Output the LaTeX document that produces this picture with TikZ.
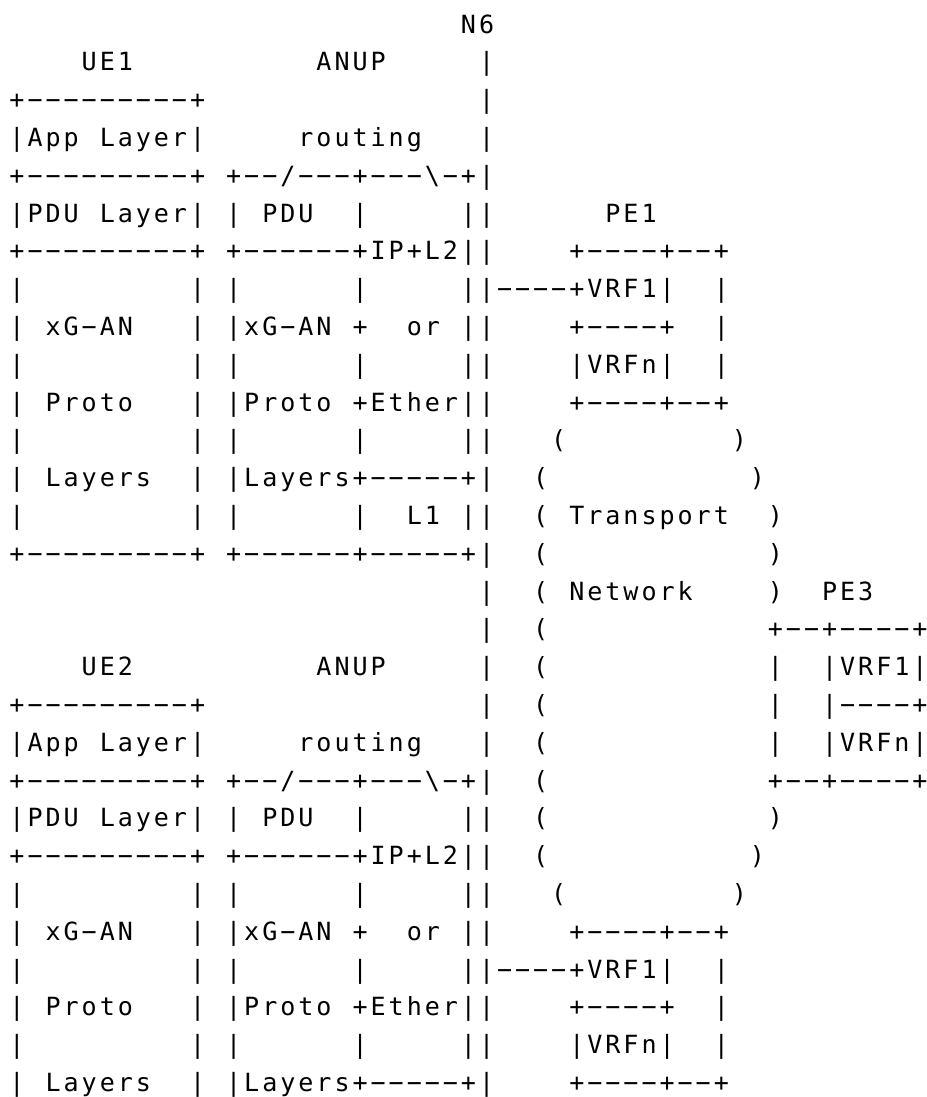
\documentclass[tikz,border=0pt]{standalone}
\usepackage{fontspec}
\newfontfamily\asciifont{DejaVu Sans Mono}

% one character cell of the text grid
\newlength\cellw
\setlength\cellw{13.545pt}
\makeatletter
\def\ascii@dash{-}
% a row of fixed-width cells; spaces and backslashes are read as plain characters
\newcommand\asciirow{\begingroup\catcode`\ =12 \catcode`\\=12 \ascii@row}
\newcommand\ascii@row[1]{\@tfor\ascii@ch:=#1\do{%
  \makebox[\cellw][c]{\ifx\ascii@ch\ascii@dash\char"2212\else\ascii@ch\fi}}\endgroup}
\makeatother

\begin{document}
\begin{tikzpicture}[
  x=0.75pt, y=-0.75pt,
  asciiline/.style={anchor=base west, inner sep=0pt, outer sep=0pt,
                    font=\asciifont\fontsize{18.8pt}{28pt}\selectfont}
]
\useasboundingbox (0,0) rectangle (926,1097);
% ── UE1 / ANUP / PE1 ──────────────────
\node[asciiline] (r00) at (8,33)     {\asciirow{                         N6}};
\node[asciiline] (r01) at (8,70.8)   {\asciirow{    UE1          ANUP     |}};
\node[asciiline] (r02) at (8,108.6)  {\asciirow{+---------+               |}};
\node[asciiline] (r03) at (8,146.4)  {\asciirow{|App Layer|     routing   |}};
\node[asciiline] (r04) at (8,184.2)  {\asciirow{+---------+ +--/---+---\-+|}};
\node[asciiline] (r05) at (8,222)    {\asciirow{|PDU Layer| | PDU  |     ||      PE1}};
\node[asciiline] (r06) at (8,259.8)  {\asciirow{+---------+ +------+IP+L2||    +----+--+}};
\node[asciiline] (r07) at (8,297.6)  {\asciirow{|         | |      |     ||----+VRF1|  |}};
\node[asciiline] (r08) at (8,335.4)  {\asciirow{| xG-AN   | |xG-AN +  or ||    +----+  |}};
\node[asciiline] (r09) at (8,373.2)  {\asciirow{|         | |      |     ||    |VRFn|  |}};
\node[asciiline] (r10) at (8,411)    {\asciirow{| Proto   | |Proto +Ether||    +----+--+}};
\node[asciiline] (r11) at (8,448.8)  {\asciirow{|         | |      |     ||   (         )}};
\node[asciiline] (r12) at (8,486.6)  {\asciirow{| Layers  | |Layers+-----+|  (           )}};
\node[asciiline] (r13) at (8,524.4)  {\asciirow{|         | |      |  L1 ||  ( Transport  )}};
\node[asciiline] (r14) at (8,562.2)  {\asciirow{+---------+ +------+-----+|  (            )}};
% ── transport network / PE3 ───────────
\node[asciiline] (r15) at (8,600)    {\asciirow{                          |  ( Network    )  PE3}};
\node[asciiline] (r16) at (8,637.8)  {\asciirow{                          |  (            +--+----+}};
% ── UE2 / ANUP / PE2 ──────────────────
\node[asciiline] (r17) at (8,675.6)  {\asciirow{    UE2          ANUP     |  (            |  |VRF1|}};
\node[asciiline] (r18) at (8,713.4)  {\asciirow{+---------+               |  (            |  |----+}};
\node[asciiline] (r19) at (8,751.2)  {\asciirow{|App Layer|     routing   |  (            |  |VRFn|}};
\node[asciiline] (r20) at (8,789)    {\asciirow{+---------+ +--/---+---\-+|  (            +--+----+}};
\node[asciiline] (r21) at (8,826.8)  {\asciirow{|PDU Layer| | PDU  |     ||  (            )}};
\node[asciiline] (r22) at (8,864.6)  {\asciirow{+---------+ +------+IP+L2||  (           )}};
\node[asciiline] (r23) at (8,902.4)  {\asciirow{|         | |      |     ||   (         )}};
\node[asciiline] (r24) at (8,940.2)  {\asciirow{| xG-AN   | |xG-AN +  or ||    +----+--+}};
\node[asciiline] (r25) at (8,978)    {\asciirow{|         | |      |     ||----+VRF1|  |}};
\node[asciiline] (r26) at (8,1015.8) {\asciirow{| Proto   | |Proto +Ether||    +----+  |}};
\node[asciiline] (r27) at (8,1053.6) {\asciirow{|         | |      |     ||    |VRFn|  |}};
\node[asciiline] (r28) at (8,1091.4) {\asciirow{| Layers  | |Layers+-----+|    +----+--+}};
\end{tikzpicture}
\end{document}
